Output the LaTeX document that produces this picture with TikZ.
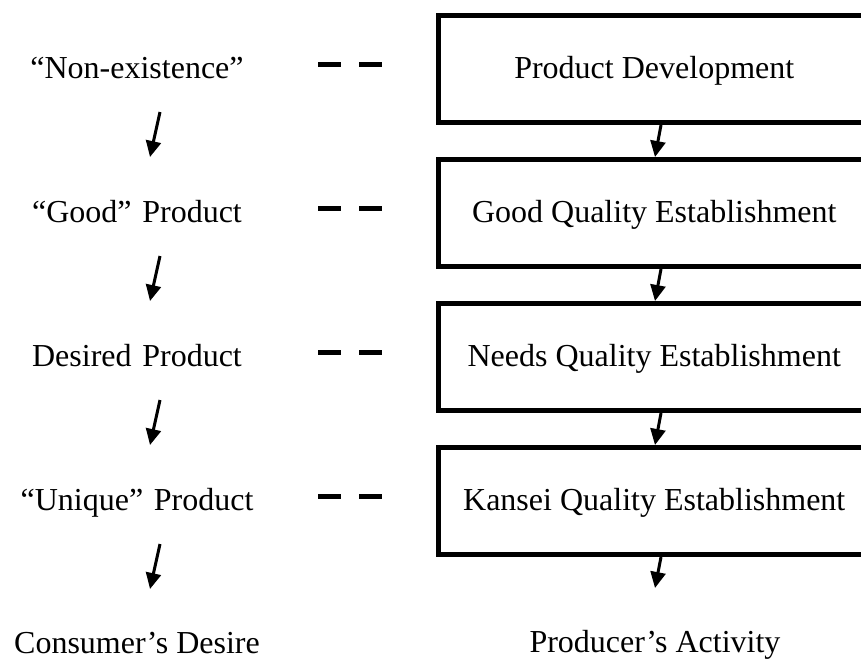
\documentclass[tikz,border=0pt]{standalone}
\usepackage{fontspec}
\setmainfont{Liberation Serif}
\usetikzlibrary{arrows.meta}
\begin{document}
\begin{tikzpicture}[x=1pt,y=-1pt,
  every node/.style={font=\fontsize{32}{38}\selectfont, inner sep=0pt},
  lefttext/.style={text width=250pt, align=center, text height=25pt, text depth=7pt},
  stagebox/.style={draw, line width=5pt, minimum width=431.5pt, minimum height=107pt,
                   text height=25pt, text depth=7pt},
  flow/.style={line width=3pt, -{Triangle[width=15pt,length=16pt]}},
  dashlink/.style={line width=5pt, dash pattern=on 23pt off 18pt,
                   shorten <=56pt, shorten >=54pt},
]
\useasboundingbox (0,0) rectangle (861,659);
\clip (0,0) rectangle (861,659);

% consumer side
\node[lefttext] (t1) at (137,69)  {“Non-existence”};
\node[lefttext] (t2) at (137,213) {“Good” Product};
\node[lefttext] (t3) at (137,357) {Desired Product};
\node[lefttext] (t4) at (137,501) {“Unique” Product};
\node[anchor=base] (cd) at (137,653) {Consumer’s Desire};

% producer side
\node[stagebox] (b1) at (654.25,69)  {Product Development};
\node[stagebox] (b2) at (654.25,213) {Good Quality Establishment};
\node[stagebox] (b3) at (654.25,357) {Needs Quality Establishment};
\node[stagebox] (b4) at (654.25,501) {Kansei Quality Establishment};
\node[anchor=base] (pa) at (655,652) {Producer’s Activity};

% consumer-side arrows
\foreach \r/\c in {1/69,2/213,3/357,4/501}{
  \coordinate (ls\r) at (160,\c+43);
  \coordinate (le\r) at (150,\c+88);
  \draw[flow] (ls\r) -- (le\r);
}

% producer-side arrows
\draw[flow] ([xshift=6.75pt]b1.south) -- ([xshift=0.75pt]b2.north);
\draw[flow] ([xshift=6.75pt]b2.south) -- ([xshift=0.75pt]b3.north);
\draw[flow] ([xshift=6.75pt]b3.south) -- ([xshift=0.75pt]b4.north);
\coordinate (pend) at (655,588);
\draw[flow] ([xshift=6.75pt]b4.south) -- (pend);

% correspondence links
\foreach \r in {1,2,3,4}{
  \draw[dashlink] ([yshift=4.5pt]t\r.east) -- ([yshift=4.5pt]b\r.west);
}
\end{tikzpicture}
\end{document}
